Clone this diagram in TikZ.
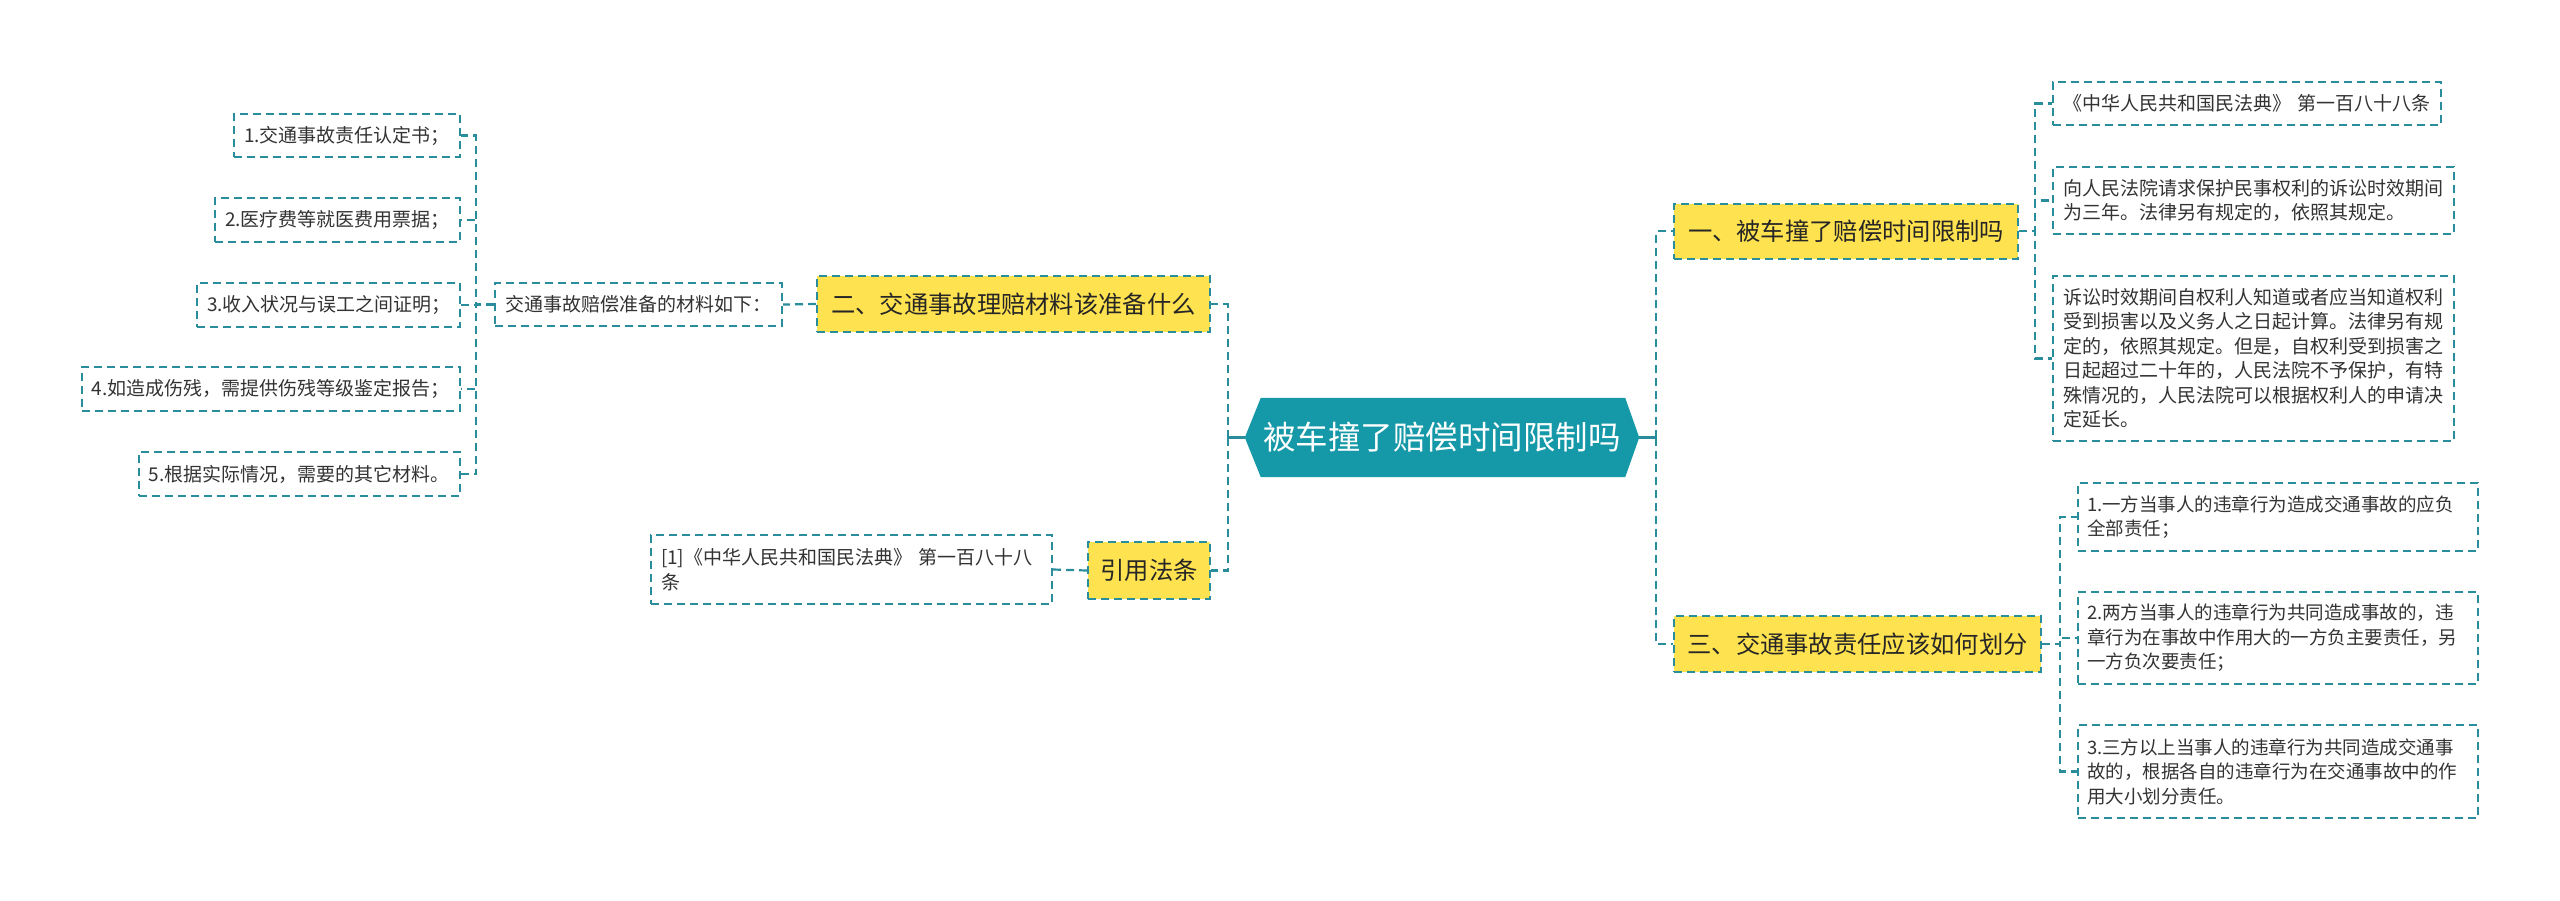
\documentclass[tikz,border=0pt]{standalone}
\usepackage{fontspec}
\setmainfont{Noto Sans CJK SC}
\usetikzlibrary{backgrounds}
\definecolor{hexc}{HTML}{1598A7}
\definecolor{linec}{HTML}{2A8D9B}
\definecolor{yel}{HTML}{FFE24F}
\definecolor{txt}{HTML}{333333}
\tikzset{
  conn/.style={draw=linec, line width=2.2bp, dash pattern=on 8bp off 5bp},
  solidconn/.style={draw=linec, line width=3bp},
  topic/.style={draw=linec, line width=2bp, dash pattern=on 8bp off 5bp, fill=yel,
    font=\fontsize{24.3bp}{30bp}\selectfont, text=black!85, inner sep=0pt},
  leaf/.style={draw=linec, line width=2bp, dash pattern=on 8bp off 5bp, fill=white,
    font=\fontsize{19bp}{24.5bp}\selectfont, text=txt, align=left,
    inner xsep=10bp, inner ysep=0pt},
  smallleaf/.style={leaf, font=\fontsize{18.5bp}{24.5bp}\selectfont, inner xsep=9bp},
  central/.style={font=\fontsize{32.5bp}{38bp}\selectfont, text=white, inner sep=0pt,
    minimum width=394bp, minimum height=79bp}
}
\begin{document}
\begin{tikzpicture}[x=1bp,y=-1bp]
\useasboundingbox (0,0) rectangle (2560,900);

% central
\node[central] (c) at (1442,437.5) {被车撞了赔偿时间限制吗};
\begin{scope}[on background layer]
  \fill[white] (0,0) rectangle (2560,900);
  \fill[hexc] (c.west) -- ([xshift=16bp]c.north west) -- ([xshift=-14bp]c.north east)
    -- (c.east) -- ([xshift=-14bp]c.south east) -- ([xshift=16bp]c.south west) -- cycle;
\end{scope}

% right topics
\node[topic, minimum width=344bp, minimum height=55bp] (r1) at (1846,231) {一、被车撞了赔偿时间限制吗};
\node[topic, minimum width=367bp, minimum height=56bp] (r3) at (1857.5,644) {三、交通事故责任应该如何划分};

\node[leaf, text width=368bp, minimum height=43bp] (r1a) at (2247,103.5) {《中华人民共和国民法典》 第一百八十八条};
\node[leaf, text width=381bp, minimum height=67bp] (r1b) at (2253.5,200.5) {向人民法院请求保护民事权利的诉讼时效期间\\为三年。法律另有规定的，依照其规定。};
\node[leaf, text width=381bp, minimum height=165bp] (r1c) at (2253.5,358.5) {诉讼时效期间自权利人知道或者应当知道权利\\受到损害以及义务人之日起计算。法律另有规\\定的，依照其规定。但是，自权利受到损害之\\日起超过二十年的，人民法院不予保护，有特\\殊情况的，人民法院可以根据权利人的申请决\\定延长。};

\node[smallleaf, text width=382bp, minimum height=68bp] (r3a) at (2278,517) {1.一方当事人的违章行为造成交通事故的应负\\全部责任；};
\node[smallleaf, text width=382bp, minimum height=92bp] (r3b) at (2278,638) {2.两方当事人的违章行为共同造成事故的，违\\章行为在事故中作用大的一方负主要责任，另\\一方负次要责任；};
\node[smallleaf, text width=382bp, minimum height=93bp] (r3c) at (2278,771.5) {3.三方以上当事人的违章行为共同造成交通事\\故的，根据各自的违章行为在交通事故中的作\\用大小划分责任。};

% left topics
\node[topic, minimum width=393bp, minimum height=56bp] (l2) at (1013.5,304) {二、交通事故理赔材料该准备什么};
\node[topic, minimum width=122bp, minimum height=57bp] (l3) at (1149,570.5) {引用法条};

\node[leaf, text width=267bp, minimum height=43bp] (l2a) at (638.5,304.5) {交通事故赔偿准备的材料如下：};
\node[leaf, text width=206bp, minimum height=43bp] (m1) at (347,135.5) {1.交通事故责任认定书；};
\node[leaf, text width=225bp, minimum height=44bp] (m2) at (337.5,220) {2.医疗费等就医费用票据；};
\node[leaf, text width=243bp, minimum height=44bp] (m3) at (328.5,305) {3.收入状况与误工之间证明；};
\node[leaf, text width=358bp, minimum height=44bp] (m4) at (271,389) {4.如造成伤残，需提供伤残等级鉴定报告；};
\node[leaf, text width=301bp, minimum height=44bp] (m5) at (299.5,474) {5.根据实际情况，需要的其它材料。};

\node[leaf, text width=381bp, minimum height=69bp] (l3a) at (851.5,569.5) {[1]《中华人民共和国民法典》 第一百八十八\\条};

% main connectors
\draw[solidconn] (c.east) -- ++(17,0) coordinate (rj);
\draw[conn] (rj) |- (r1.west);
\draw[conn] (rj) |- (r3.west);
\draw[solidconn] (c.west) -- ++(-17,0) coordinate (lj);
\draw[conn] (lj) |- (l2.east);
\draw[conn] (lj) |- (l3.east);

% right sub connectors
\draw[conn] (r1.east) -- ++(16,0) |- (r1a.west);
\draw[conn] (r1.east) -- ++(16,0) |- (r1b.west);
\draw[conn] (r1.east) -- ++(16,0) |- (r1c.west);
\draw[conn] (r3.east) -- ++(18,0) |- (r3a.west);
\draw[conn] (r3.east) -- ++(18,0) |- (r3b.west);
\draw[conn] (r3.east) -- ++(18,0) |- (r3c.west);

% left sub connectors
\draw[conn] (l2.west) -- (l2a.east);
\draw[conn] (l3.west) -- (l3a.east);
\draw[conn] (l2a.west) -- ++(-18,0) |- (m1.east);
\draw[conn] (l2a.west) -- ++(-18,0) |- (m2.east);
\draw[conn] (l2a.west) -- ++(-18,0) |- (m3.east);
\draw[conn] (l2a.west) -- ++(-18,0) |- (m4.east);
\draw[conn] (l2a.west) -- ++(-18,0) |- (m5.east);
\end{tikzpicture}
\end{document}
